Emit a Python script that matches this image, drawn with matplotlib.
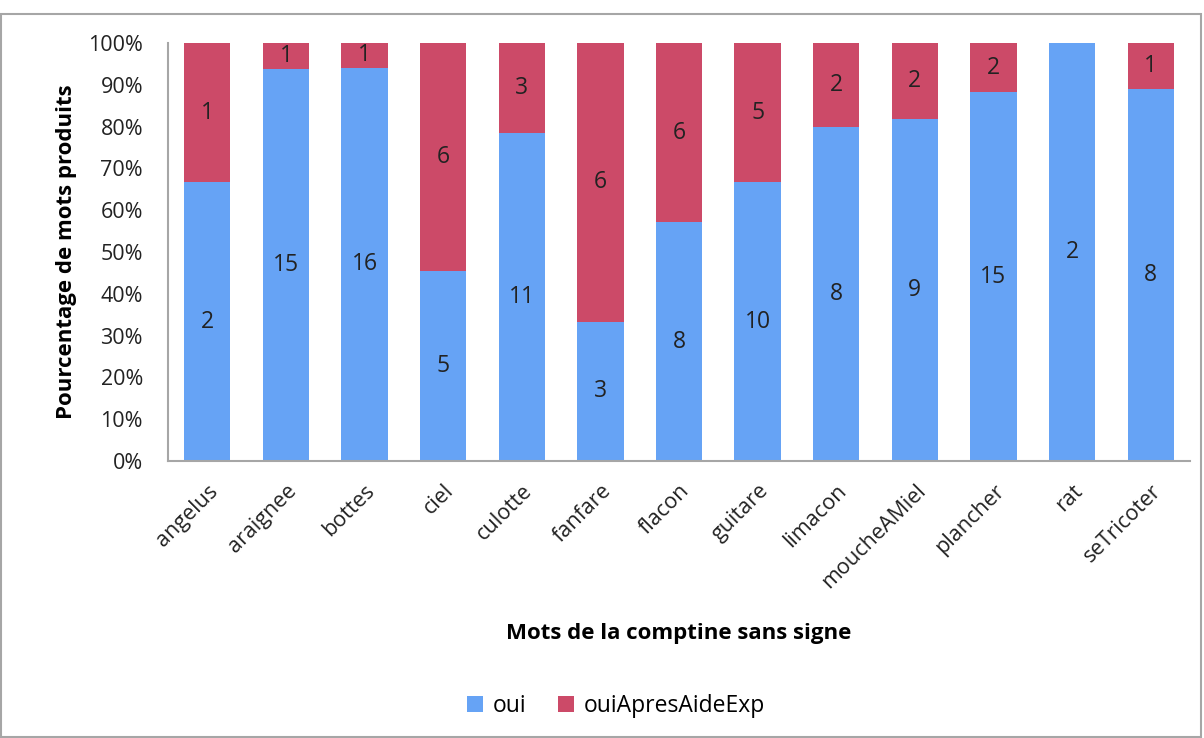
import numpy as np
import matplotlib
matplotlib.use("Agg")
import matplotlib.pyplot as plt
from matplotlib.patches import Rectangle

plt.rcParams['font.family'] = ['Open Sans', 'DejaVu Sans']

# --------------------------
# Data
# --------------------------
mots = ["angelus", "araignee", "bottes", "ciel", "culotte", "fanfare", "flacon",
        "guitare", "limacon", "moucheAMiel", "plancher", "rat", "seTricoter"]
oui = np.array([2, 15, 16, 5, 11, 3, 8, 10, 8, 9, 15, 2, 8])
oui_apres = np.array([1, 1, 1, 6, 3, 6, 6, 5, 2, 2, 2, 0, 1])
yticks = np.arange(0, 101, 10)

total = oui + oui_apres
p_oui = oui / total * 100
p_apres = oui_apres / total * 100

blue = "#66A3F5"
red = "#CC4A68"
fs = 15.5

# --------------------------
# Plot
# --------------------------
fig = plt.figure(figsize=(12.04, 7.38), dpi=100)
ax = fig.add_axes([168 / 1204, 1 - 461 / 738, (1190 - 168) / 1204, (461 - 43) / 738])

x = np.arange(len(mots))
w = 0.59
ax.bar(x, p_oui, w, color=blue, label="oui")
ax.bar(x, p_apres, w, bottom=p_oui, color=red, label="ouiApresAideExp")

for i in range(len(mots)):
    if oui[i] > 0:
        ax.text(x[i], p_oui[i] / 2, str(oui[i]), ha="center", va="center",
                fontsize=16.5, color="#222222")
    if oui_apres[i] > 0:
        ax.text(x[i], p_oui[i] + p_apres[i] / 2, str(oui_apres[i]), ha="center",
                va="center", fontsize=16.5, color="#222222")

ax.set_xlim(-0.5, len(mots) - 0.5)
ax.set_ylim(0, 100)
ax.set_yticks(yticks)
ax.set_yticklabels([f"{v}%" for v in yticks], fontsize=fs, color="#222222")
ax.set_xticks(x)
ax.set_xticklabels(mots, rotation=45, ha="right", rotation_mode="anchor",
                   fontsize=fs, color="#222222")
ax.tick_params(axis="y", length=0, pad=18)
ax.tick_params(axis="x", length=0, pad=14)

for s in ["top", "right"]:
    ax.spines[s].set_visible(False)
for s in ["left", "bottom"]:
    ax.spines[s].set_color("#A6A6A6")
    ax.spines[s].set_linewidth(1.5)

ax.set_ylabel("Pourcentage de mots produits", fontsize=16, fontweight="bold",
              labelpad=8)
fig.text((168 + 1190) / 2 / 1204, 1 - 633 / 738, "Mots de la comptine sans signe",
         ha="center", va="center", fontsize=16, fontweight="bold")

fig.legend(loc="center", bbox_to_anchor=(616 / 1204, 1 - 706 / 738), ncol=2,
           frameon=False, fontsize=16.5, handlelength=0.7, handleheight=0.7,
           columnspacing=1.4, handletextpad=0.4)

# outer chart border
fig.patches.append(Rectangle((1 / 1204, 1 / 738), 1200 / 1204, (738 - 15) / 738,
                             transform=fig.transFigure, fill=False,
                             edgecolor="#A6A6A6", linewidth=1.5))

fig.savefig("out.png", dpi=100)
